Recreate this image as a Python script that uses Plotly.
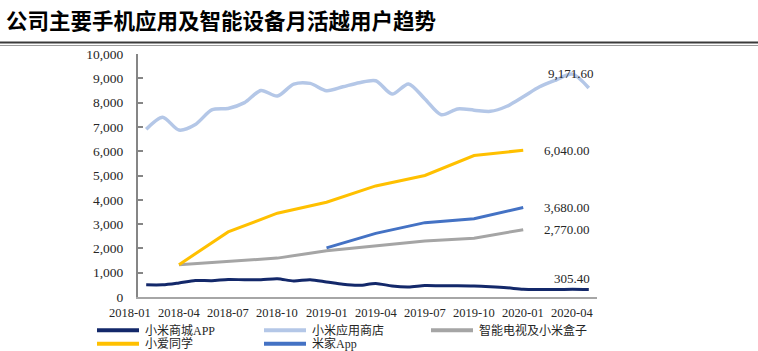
import plotly.graph_objects as go

# ---------------- data ----------------
title_text = "公司主要手机应用及智能设备月活越用户趋势"

monthly_months = ["2018-02", "2018-03", "2018-04", "2018-05", "2018-06", "2018-07",
                  "2018-08", "2018-09", "2018-10", "2018-11", "2018-12", "2019-01",
                  "2019-02", "2019-03", "2019-04", "2019-05", "2019-06", "2019-07",
                  "2019-08", "2019-09", "2019-10", "2019-11", "2019-12", "2020-01",
                  "2020-02", "2020-03", "2020-04", "2020-05"]
mall_app = [500, 500, 580, 680, 670, 720, 710, 710, 750, 660, 710, 620,
            520, 480, 560, 450, 410, 470, 460, 460, 450, 420, 380, 320,
            310, 310, 315, 305.4]
app_store = [6900, 7400, 6870, 7100, 7700, 7760, 8000, 8500, 8270, 8760, 8790, 8490,
             8650, 8820, 8900, 8350, 8770, 8150, 7500, 7740, 7690, 7640, 7850, 8240,
             8650, 8930, 9171.6, 8600]

q_months_a = ["2018-04", "2018-07", "2018-10", "2019-01", "2019-04", "2019-07", "2019-10", "2020-01"]
tv_box = [1330, 1470, 1600, 1900, 2100, 2300, 2420, 2770]
xiaoai = [1330, 2680, 3450, 3900, 4570, 5000, 5820, 6040]

q_months_b = ["2019-01", "2019-04", "2019-07", "2019-10", "2020-01"]
mijia = [2020, 2620, 3060, 3220, 3680]

tick_labels = ["2018-01", "2018-04", "2018-07", "2018-10", "2019-01",
               "2019-04", "2019-07", "2019-10", "2020-01", "2020-04"]

series_names = ["小米商城APP", "小米应用商店", "智能电视及小米盒子", "小爱同学", "米家App"]
series_colors = ["#13286a", "#b4c7e7", "#a5a5a5", "#ffc000", "#4472c4"]

end_labels = ["305.40", "9,171.60", "2,770.00", "6,040.00", "3,680.00"]

X_RANGE = [0.5, 28.5]


def midx(s):
    y, m = s.split("-")
    return (int(y) - 2018) * 12 + int(m) - 1


SERIF = "Liberation Serif, Times New Roman, Noto Sans CJK SC, serif"

W, H = 758, 351
ML, MR, MT, MB = 138, 161, 54, 54.3
PW, PH = W - ML - MR, H - MT - MB


def px_to_paper_x(px):
    return (px - ML) / PW


def px_to_paper_y(py):
    return (H - MB - py) / PH


def xdata_to_paper(v):
    return (v - X_RANGE[0]) / (X_RANGE[1] - X_RANGE[0])


fig = go.Figure()

series = [
    (monthly_months, mall_app, "spline", 3),
    (monthly_months, app_store, "spline", 3.5),
    (q_months_a, tv_box, "linear", 3),
    (q_months_a, xiaoai, "linear", 3),
    (q_months_b, mijia, "linear", 3),
]
for i, (mon, vals, shape, w) in enumerate(series):
    fig.add_trace(go.Scatter(
        x=[midx(m) for m in mon], y=vals, mode="lines", name=series_names[i],
        line=dict(color=series_colors[i], width=w, shape=shape,
                  smoothing=0.8 if shape == "spline" else None),
        showlegend=False, hoverinfo="skip"))

annotations = []
# x tick labels (placed via the x-axis scale; first one sits left of the axis start)
for lab in tick_labels:
    annotations.append(dict(x=xdata_to_paper(midx(lab)), y=px_to_paper_y(312.7), xref="paper", yref="paper",
                            text=lab, showarrow=False, xanchor="center", yanchor="middle",
                            font=dict(family=SERIF, size=12.5, color="#262626")))

# value labels
peak_i = app_store.index(max(app_store))
end_specs = [
    (monthly_months[-1], mall_app[-1], dict(xanchor="right", yanchor="middle", xshift=3, yshift=11)),
    (monthly_months[peak_i], app_store[peak_i], dict(xanchor="center", yanchor="middle", xshift=-1, yshift=1)),
    (q_months_a[-1], tv_box[-1], dict(xanchor="left", yanchor="middle", xshift=19, yshift=0)),
    (q_months_a[-1], xiaoai[-1], dict(xanchor="left", yanchor="middle", xshift=19, yshift=0)),
    (q_months_b[-1], mijia[-1], dict(xanchor="left", yanchor="middle", xshift=19, yshift=0)),
]
for i, (mon, val, pos) in enumerate(end_specs):
    d = dict(x=midx(mon), y=val, xref="x", yref="y", text=end_labels[i],
             showarrow=False, font=dict(family=SERIF, size=13, color="#262626"))
    d.update(pos)
    annotations.append(d)

# title
annotations.append(dict(x=px_to_paper_x(4), y=px_to_paper_y(20), xref="paper", yref="paper",
                        text="<b>" + title_text + "</b>",
                        showarrow=False, xanchor="left", yanchor="middle",
                        font=dict(family="Noto Sans CJK SC", size=21.5, color="#000000")))

shapes = []
# header rules
shapes.append(dict(type="line", xref="paper", yref="paper",
                   x0=px_to_paper_x(0), x1=px_to_paper_x(W), y0=px_to_paper_y(42.5), y1=px_to_paper_y(42.5),
                   line=dict(color="#3a3a3a", width=2)))
shapes.append(dict(type="line", xref="paper", yref="paper",
                   x0=px_to_paper_x(0), x1=px_to_paper_x(W), y0=px_to_paper_y(45.5), y1=px_to_paper_y(45.5),
                   line=dict(color="#9a9a9a", width=1)))

# custom legend
leg_pos = [(97, 330), (264, 330), (431, 330), (97, 343.5), (264, 343.5)]
for i, (lx, ly) in enumerate(leg_pos):
    shapes.append(dict(type="line", xref="paper", yref="paper",
                       x0=px_to_paper_x(lx), x1=px_to_paper_x(lx + 42),
                       y0=px_to_paper_y(ly), y1=px_to_paper_y(ly),
                       line=dict(color=series_colors[i], width=4)))
    annotations.append(dict(x=px_to_paper_x(lx + 46), y=px_to_paper_y(ly), xref="paper", yref="paper",
                            text=series_names[i], showarrow=False, xanchor="left", yanchor="middle",
                            font=dict(family=SERIF, size=12, color="#262626")))

fig.update_layout(
    width=W, height=H, autosize=False,
    margin=dict(l=ML, r=MR, t=MT, b=MB, pad=0),
    paper_bgcolor="white", plot_bgcolor="white",
    xaxis=dict(range=X_RANGE, showgrid=False, zeroline=False, showticklabels=False,
               showline=True, linecolor="#a6a6a6", linewidth=2, ticks=""),
    yaxis=dict(range=[0, 10000], showgrid=False, zeroline=False, tickvals=list(range(0, 10001, 1000)),
               tickformat=",d", showline=True, linecolor="#868686", linewidth=2,
               ticks="inside", ticklen=5, tickwidth=2, tickcolor="#868686",
               tickfont=dict(family=SERIF, size=13.5, color="#262626"), ticklabelstandoff=10),
    annotations=annotations, shapes=shapes, showlegend=False,
)

fig.write_html("out.html")
